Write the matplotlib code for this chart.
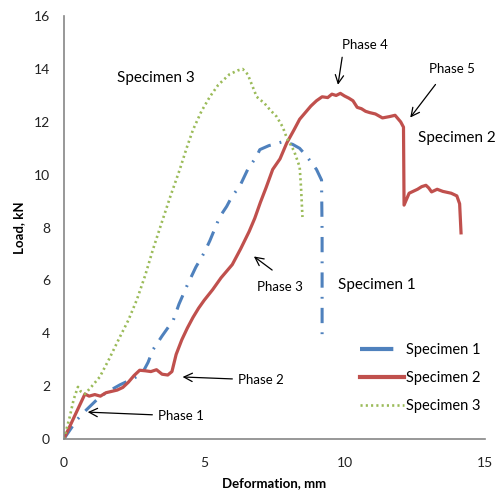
import matplotlib
matplotlib.use("Agg")
import matplotlib.pyplot as plt

# Specimen 1 (blue, dash-dot)
s1_x = [0, 0.46, 0.8, 1.17, 1.5, 2.0, 2.5, 2.8, 3.0, 3.17, 3.5, 3.9, 4.1, 4.37, 4.7, 5.0,
        5.2, 5.55, 5.8, 6.0, 6.26, 6.55, 6.87, 6.98, 7.3, 7.8, 8.15, 8.4, 8.65, 9.0, 9.18, 9.2, 9.2]
s1_y = [0, 0.72, 1.1, 1.48, 1.75, 2.05, 2.3, 2.5, 2.9, 3.37, 3.9, 4.5, 5.1, 5.76, 6.5, 7.05,
        7.5, 8.4, 8.8, 9.2, 9.55, 10.2, 10.7, 10.95, 11.1, 11.25, 11.15, 11.0, 10.7, 10.2, 9.8, 7.8, 3.8]

# Specimen 2 (red, solid)
s2_x = [0, 0.75, 0.9, 1.1, 1.3, 1.5, 1.7, 1.9, 2.1, 2.3, 2.5, 2.7, 2.9, 3.1, 3.3, 3.5, 3.7,
        3.85, 4.0, 4.2, 4.4, 4.6, 4.8, 5.0, 5.3, 5.6, 5.8, 6.0, 6.15, 6.3, 6.6, 6.8, 7.0, 7.2,
        7.44, 7.7, 7.94, 8.2, 8.4, 8.6, 8.8, 9.0, 9.2, 9.4, 9.55, 9.7, 9.85, 10.0, 10.15, 10.3,
        10.45, 10.6, 10.75, 10.9, 11.1, 11.35, 11.6, 11.8, 12.0, 12.1, 12.12, 12.3, 12.6, 12.75,
        12.9, 13.0, 13.1, 13.3, 13.5, 13.8, 14.0, 14.1, 14.15]
s2_y = [0, 1.7, 1.62, 1.68, 1.62, 1.75, 1.8, 1.85, 1.95, 2.15, 2.4, 2.6, 2.58, 2.55, 2.62,
        2.45, 2.42, 2.55, 3.2, 3.75, 4.2, 4.6, 4.95, 5.25, 5.65, 6.1, 6.35, 6.6, 6.9, 7.2, 7.85,
        8.35, 8.95, 9.5, 10.2, 10.6, 11.2, 11.7, 12.1, 12.35, 12.6, 12.8, 12.95, 12.92, 13.05,
        13.0, 13.08, 12.98, 12.9, 12.8, 12.55, 12.5, 12.4, 12.35, 12.3, 12.15, 12.2, 12.25,
        12.0, 11.8, 8.85, 9.3, 9.45, 9.55, 9.6, 9.5, 9.35, 9.45, 9.37, 9.3, 9.2, 8.9, 7.8]

# Specimen 3 (green, dotted)
s3_x = [0, 0.2, 0.35, 0.5, 0.6, 0.75, 1.0, 1.28, 1.6, 2.0, 2.3, 2.6, 2.9, 3.17, 3.52, 3.8,
        4.13, 4.37, 4.6, 4.9, 5.2, 5.5, 5.9, 6.2, 6.37, 6.55, 6.87, 7.15, 7.35, 7.58, 7.8, 7.94,
        8.2, 8.4, 8.45, 8.5]
s3_y = [0, 0.8, 1.5, 1.97, 1.8, 1.7, 2.0, 2.35, 3.0, 3.87, 4.5, 5.27, 6.2, 7.16, 8.3, 9.2,
        10.2, 11.0, 11.7, 12.4, 12.95, 13.4, 13.8, 13.95, 14.0, 13.8, 12.95, 12.7, 12.45, 12.2,
        11.8, 11.4, 10.9, 10.3, 9.5, 8.4]

series_names = ["Specimen 1", "Specimen 2", "Specimen 3"]
x_ticks = [0, 5, 10, 15]
y_ticks = [0, 2, 4, 6, 8, 10, 12, 14, 16]

plt.rcParams['font.family'] = ['Lato', 'DejaVu Sans']

fig = plt.figure(figsize=(5.03, 4.91), dpi=100)
ax = fig.add_axes([0.127, 0.106, 0.837, 0.861])

blue = '#4F81BD'
red = '#C0504D'
green = '#9BBB59'

ax.plot(s1_x, s1_y, color=blue, lw=2.2, linestyle=(0, (5, 3, 0.6, 3)),
        label=series_names[0])
ax.plot(s2_x, s2_y, color=red, lw=2.3, label=series_names[1])
ax.plot(s3_x, s3_y, color=green, lw=1.9, linestyle=(0, (0.8, 1.2)),
        label=series_names[2])

ax.set_xlim(0, 15)
ax.set_ylim(0, 16)
ax.set_xticks(x_ticks)
ax.set_yticks(y_ticks)
ax.tick_params(length=0, labelsize=10, colors='#222222')
ax.tick_params(axis='x', pad=13)
ax.tick_params(axis='y', pad=10)
for s in ['top', 'right']:
    ax.spines[s].set_visible(False)
for s in ['left', 'bottom']:
    ax.spines[s].set_color('#868686')
    ax.spines[s].set_linewidth(1.2)

ax.set_xlabel("Deformation, mm", fontsize=9.5, fontweight='bold', labelpad=6)
ax.set_ylabel("Load, kN", fontsize=9.5, fontweight='bold', labelpad=6)

arrowprops = dict(arrowstyle='->', color='black', lw=0.9, mutation_scale=15)
fs = 9.5
ax.annotate("Phase 1", xy=(0.75, 1.02), xytext=(3.35, 0.87), fontsize=fs,
            va='center', ha='left', arrowprops=arrowprops)
ax.annotate("Phase 2", xy=(4.13, 2.35), xytext=(6.2, 2.23), fontsize=fs,
            va='center', ha='left', arrowprops=arrowprops)
ax.annotate("", xy=(6.69, 6.97), xytext=(7.5, 6.33), arrowprops=arrowprops)
ax.text(6.87, 5.76, "Phase 3", fontsize=fs, va='center', ha='left')
ax.annotate("", xy=(9.75, 13.3), xytext=(9.93, 14.55), arrowprops=arrowprops)
ax.text(9.9, 14.9, "Phase 4", fontsize=fs, va='center', ha='left')
ax.annotate("", xy=(12.28, 12.08), xytext=(13.3, 13.5), arrowprops=arrowprops)
ax.text(13.0, 14.0, "Phase 5", fontsize=fs, va='center', ha='left')

ax.text(12.6, 11.4, "Specimen 2", fontsize=11, va='center', ha='left', clip_on=False)
ax.text(9.75, 5.83, "Specimen 1", fontsize=11, va='center', ha='left')
ax.text(1.88, 13.67, "Specimen 3", fontsize=11, va='center', ha='left')

leg = ax.legend(loc='lower left', bbox_to_anchor=(0.672, 0.03), frameon=False,
                fontsize=10.5, handlelength=3.0, handletextpad=0.15, labelspacing=0.95)
leg.get_lines()[0].set_linewidth(3)
leg.get_lines()[0].set_linestyle((0, (8, 4, 0.8, 4)))
leg.get_lines()[1].set_linewidth(3)

fig.savefig("out.png", dpi=100)
